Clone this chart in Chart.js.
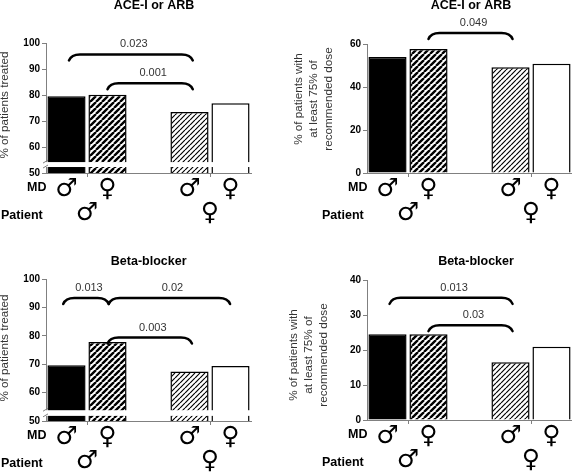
<!DOCTYPE html>
<html>
<head>
<meta charset="utf-8">
<script src="https://cdn.jsdelivr.net/npm/chart.js@4/dist/chart.umd.min.js"></script>
<style>
  html, body { margin: 0; padding: 0; background: #fff; overflow: hidden; }
  #wrap { position: relative; width: 572px; height: 476px; }
  .panel { position: absolute; width: 286px; height: 238px; }
</style>
</head>
<body>
<div id="wrap">
  <div class="panel" style="left:0;top:0"><canvas id="ace-treated" width="286" height="238"></canvas></div>
  <div class="panel" style="left:286px;top:0"><canvas id="ace-dose" width="286" height="238"></canvas></div>
  <div class="panel" style="left:0;top:238px"><canvas id="beta-treated" width="286" height="238"></canvas></div>
  <div class="panel" style="left:286px;top:238px"><canvas id="beta-dose" width="286" height="238"></canvas></div>
</div>
<script>
// data
const mdLabels = ["♂", "♀", "", "♂", "♀"];
const patientLabels = ["♂", "♀"];
const patientPositions = [0.5, 3.5];

const aceTreated = [79.5, 80.1, null, 73.5, 76.8];
const aceDose = [54, 57.7, null, 49.2, 50.8];
const betaTreated = [69.6, 77.8, null, 67.4, 69.4];
const betaDose = [24.5, 24.5, null, 16.5, 20.9];

// p value brackets: from / to category, height in axis units, label
const aceTreatedFrom = [0.06, 1.0];
const aceTreatedTo = [3.08, 3.08];
const aceTreatedY = [95.6, 84.5];
const aceTreatedP = ["0.023", "0.001"];

const aceDoseFrom = [1.0];
const aceDoseTo = [3.05];
const aceDoseY = [65.1];
const aceDoseP = ["0.049"];

const betaTreatedFrom = [-0.08, 1.03, 1.0];
const betaTreatedTo = [1.03, 3.99, 3.06];
const betaTreatedY = [93.3, 93.3, 79.4];
const betaTreatedP = ["0.013", "0.02", "0.003"];

const betaDoseFrom = [0.05, 1.0];
const betaDoseTo = [3.05, 3.05];
const betaDoseY = [34.9, 27.1];
const betaDoseP = ["0.013", "0.03"];

const treatedLabel = ["% of patients treated"];
const doseLabel = ["% of patients with", "at least 75% of", "recommended dose"];

function hatch(period, lineWidth) {
  const c = document.createElement("canvas");
  c.width = period;
  c.height = period;
  const g = c.getContext("2d");
  g.fillStyle = "#fff";
  g.fillRect(0, 0, period, period);
  g.strokeStyle = "#000";
  g.lineWidth = lineWidth;
  g.beginPath();
  for (let i = -1; i <= 1; i++) {
    g.moveTo(i * period, period);
    g.lineTo(i * period + period, 0);
  }
  g.stroke();
  return g.createPattern(c, "repeat");
}

const darkHatch = hatch(6, 2.4);
const lightHatch = hatch(5, 1.2);
const barFill = ["#000", darkHatch, "#fff", lightHatch, "#fff"];
const symbolFont = "'DejaVu Sans'";

// p value brackets, sex symbols and the other texts
const annotations = {
  id: "annotations",
  afterDatasetsDraw(chart, args, o) {
    const ctx = chart.ctx;
    const x = chart.scales.x;
    const y = chart.scales.y;
    const area = chart.chartArea;
    ctx.save();

    // axis break
    if (o.breakLow != null) {
      const top = y.getPixelForValue(o.breakHigh);
      const bottom = y.getPixelForValue(o.breakLow);
      ctx.fillStyle = "#fff";
      ctx.fillRect(area.left - 4, top, area.width + 8, bottom - top);
      ctx.strokeStyle = "#808080";
      ctx.lineWidth = 1;
      ctx.beginPath();
      [top, bottom].forEach(p => {
        ctx.moveTo(area.left - 3, p + 1);
        ctx.lineTo(area.left + 2, p - 2);
      });
      ctx.stroke();
    }

    // brackets
    ctx.strokeStyle = "#000";
    ctx.lineWidth = 2.5;
    ctx.lineCap = "round";
    ctx.fillStyle = "#333";
    ctx.font = "11px 'Liberation Sans'";
    ctx.textAlign = "center";
    ctx.textBaseline = "middle";
    o.from.forEach((from, i) => {
      const x0 = x.getPixelForValue(from);
      const x1 = x.getPixelForValue(o.to[i]);
      const py = y.getPixelForValue(o.heights[i]);
      ctx.beginPath();
      ctx.moveTo(x0, py + 6);
      ctx.bezierCurveTo(x0 + 2, py + 1, x0 + 6, py, x0 + 11, py);
      ctx.lineTo(x1 - 11, py);
      ctx.bezierCurveTo(x1 - 6, py, x1 - 2, py + 1, x1, py + 6);
      ctx.stroke();
      ctx.fillText(o.p[i], (x0 + x1) / 2 + 3, py - 10);
    });

    // title and row names
    ctx.fillStyle = "#000";
    ctx.font = "bold 12.5px 'Liberation Sans'";
    ctx.fillText(o.title, o.titleX, o.titleY);
    ctx.textAlign = "left";
    ctx.fillText("MD", area.left - 19, area.bottom + 15);
    ctx.fillText("Patient", area.left - 45, area.bottom + 43);

    // patient row
    ctx.textAlign = "center";
    ctx.font = "25px " + symbolFont;
    patientLabels.forEach((s, i) => {
      ctx.fillText(s, x.getPixelForValue(patientPositions[i]), area.bottom + 40);
    });

    // y axis name
    ctx.translate(o.axisX, o.axisY);
    ctx.rotate(-Math.PI / 2);
    ctx.fillStyle = "#333";
    ctx.font = "11.7px 'Liberation Sans'";
    o.axisLabel.forEach((line, i) => ctx.fillText(line, 0, i * 14.7));
    ctx.restore();
  }
};

function drawPanel(id, values, min, max, step, pad, extra) {
  new Chart(id, {
    type: "bar",
    data: {
      labels: mdLabels,
      datasets: [{
        data: values,
        backgroundColor: barFill,
        borderColor: "#000",
        borderWidth: 1.5,
        barPercentage: 0.93,
        categoryPercentage: 1
      }]
    },
    options: {
      responsive: false,
      animation: false,
      layout: { padding: pad },
      plugins: {
        legend: { display: false },
        tooltip: { enabled: false },
        annotations: extra
      },
      scales: {
        x: {
          afterFit(scale) { scale.height = 238 - pad.top - pad.bottom - pad.plot; },
          border: { color: "#808080" },
          grid: {
            drawOnChartArea: false,
            tickLength: 4,
            offset: true,
            tickColor: c => (c.index === 1 || c.index === 4) ? "#808080" : "rgba(0,0,0,0)"
          },
          ticks: {
            color: "#000",
            padding: -3,
            maxRotation: 0,
            autoSkip: false,
            font: { family: symbolFont, size: 25 }
          }
        },
        y: {
          min: min,
          max: max,
          afterFit(scale) { scale.width = pad.axis; },
          border: { color: "#808080" },
          grid: { drawOnChartArea: false, tickLength: 4, color: "#808080" },
          ticks: {
            stepSize: step,
            color: "#000",
            padding: 2,
            font: { family: "'Liberation Sans'", size: 10, weight: "bold" }
          }
        }
      }
    },
    plugins: [annotations]
  });
}

drawPanel("ace-treated", aceTreated, 50, 100, 10,
  { left: 0, right: 35, top: 43, bottom: 0, axis: 46, plot: 130 },
  { from: aceTreatedFrom, to: aceTreatedTo, heights: aceTreatedY, p: aceTreatedP,
    breakLow: 52.3, breakHigh: 54.2,
    title: "ACE-I or ARB", titleX: 154, titleY: 6,
    axisLabel: treatedLabel, axisX: 5, axisY: 105 });

drawPanel("ace-dose", aceDose, 0, 60, 20,
  { left: 0, right: 0, top: 44, bottom: 0, axis: 81, plot: 129 },
  { from: aceDoseFrom, to: aceDoseTo, heights: aceDoseY, p: aceDoseP,
    title: "ACE-I or ARB", titleX: 185, titleY: 6,
    axisLabel: doseLabel, axisX: 13, axisY: 99 });

drawPanel("beta-treated", betaTreated, 50, 100, 10,
  { left: 0, right: 35, top: 41, bottom: 0, axis: 46, plot: 142 },
  { from: betaTreatedFrom, to: betaTreatedTo, heights: betaTreatedY, p: betaTreatedP,
    breakLow: 51.8, breakHigh: 53.8,
    title: "Beta-blocker", titleX: 148.7, titleY: 24,
    axisLabel: treatedLabel, axisX: 5, axisY: 110 });

drawPanel("beta-dose", betaDose, 0, 40, 10,
  { left: 0, right: 0, top: 42, bottom: 0, axis: 81, plot: 140 },
  { from: betaDoseFrom, to: betaDoseTo, heights: betaDoseY, p: betaDoseP,
    title: "Beta-blocker", titleX: 190, titleY: 24,
    axisLabel: doseLabel, axisX: 8, axisY: 117 });
</script>
</body>
</html>
